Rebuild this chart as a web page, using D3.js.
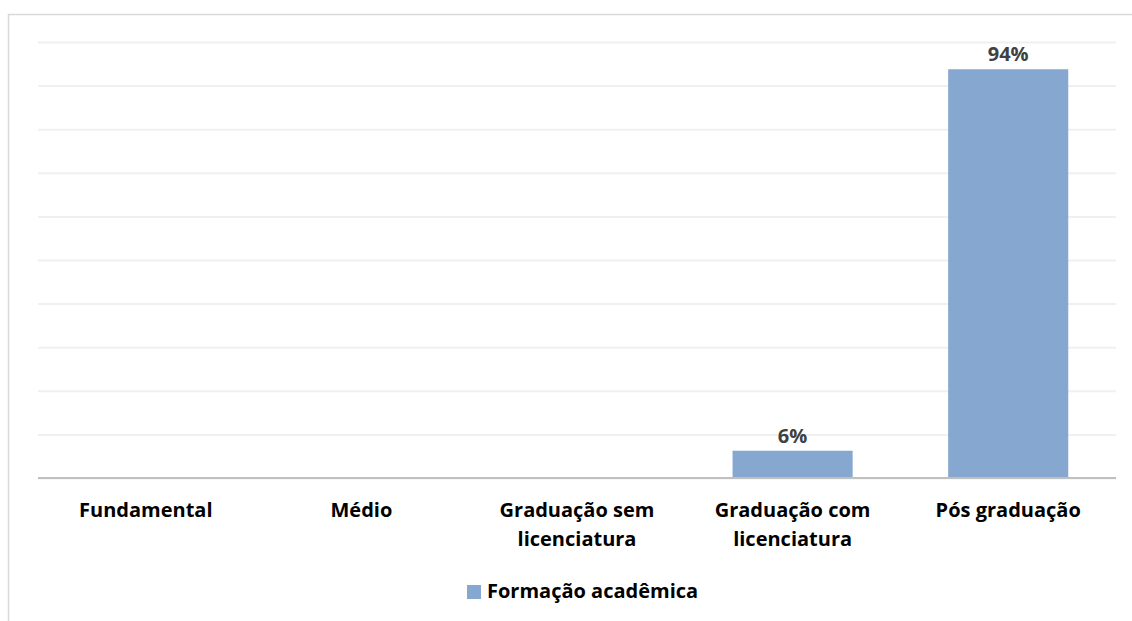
<!DOCTYPE html>
<html>
<head>
<meta charset="utf-8">
<script src="https://cdn.jsdelivr.net/npm/d3@7"></script>
<style>
  body { margin: 0; background: #fff; }
  text { font-family: "Open Sans", sans-serif; font-weight: bold; }
</style>
</head>
<body>
<svg width="1132" height="621"></svg>
<script>
var categories = ["Fundamental", "Médio", "Graduação sem licenciatura", "Graduação com licenciatura", "Pós graduação"];
var values = [0, 0, 0, 6.25, 93.75];
var valueLabels = ["", "", "", "6%", "94%"];
var seriesName = "Formação acadêmica";

var data = categories.map(function(c, i) { return {cat: c, value: values[i], label: valueLabels[i]}; });

var svg = d3.select("svg"),
    margin = {top: 42, left: 38, right: 16, bottom: 143},
    width = 1132 - margin.left - margin.right,
    height = 621 - margin.top - margin.bottom,
    g = svg.append("g").attr("transform", "translate(" + margin.left + "," + margin.top + ")");

// chart frame (only top and left show in the picture)
svg.append("rect")
    .attr("x", 8.5).attr("y", 14.5)
    .attr("width", 1200).attr("height", 700)
    .attr("fill", "none")
    .attr("stroke", "#d9d9d9")
    .attr("stroke-width", 1.5);

var x = d3.scaleBand()
    .domain(categories)
    .range([0, width])
    .paddingInner(0.443)
    .paddingOuter(0.2215);

var y = d3.scaleLinear()
    .domain([0, 100])
    .range([height, 0]);

// gridlines
g.append("g")
    .call(d3.axisLeft(y).ticks(10).tickSize(-width).tickFormat(""))
    .call(function(a) {
      a.select(".domain").remove();
      a.selectAll(".tick line").attr("stroke", "#f0f0f0").attr("stroke-width", 2);
    });

g.selectAll(".bar")
    .data(data)
    .enter().append("rect")
      .attr("class", "bar")
      .attr("x", function(d) { return x(d.cat); })
      .attr("y", function(d) { return y(d.value); })
      .attr("width", x.bandwidth())
      .attr("height", function(d) { return y(0) - y(d.value); })
      .attr("fill", "#85a7d0");

g.selectAll(".vlabel")
    .data(data.filter(function(d) { return d.label; }))
    .enter().append("text")
      .attr("class", "vlabel")
      .attr("x", function(d) { return x(d.cat) + x.bandwidth() / 2; })
      .attr("y", function(d) { return y(d.value) - 8; })
      .attr("text-anchor", "middle")
      .attr("font-size", 20)
      .attr("fill", "#404040")
      .text(function(d) { return d.label; });

// x axis baseline + labels
var xAxis = g.append("g")
    .attr("transform", "translate(0," + height + ")")
    .call(d3.axisBottom(x).tickSize(0).tickPadding(0));
xAxis.select(".domain").remove();
g.append("line")
    .attr("x1", 0).attr("x2", width)
    .attr("y1", height).attr("y2", height)
    .attr("stroke", "#bfbfbf")
    .attr("stroke-width", 2);

xAxis.selectAll(".tick text")
    .attr("font-size", 20)
    .attr("font-family", "Open Sans, sans-serif")
    .attr("font-weight", "bold")
    .attr("fill", "#000")
    .call(wrap, 185);

function wrap(text, w) {
  text.each(function() {
    var t = d3.select(this),
        words = t.text().split(/\s+/),
        line = [], lines = [];
    t.text(null);
    var probe = t.append("tspan");
    words.forEach(function(word) {
      line.push(word);
      probe.text(line.join(" "));
      if (probe.node().getComputedTextLength() > w && line.length > 1) {
        line.pop();
        lines.push(line.join(" "));
        line = [word];
      }
    });
    lines.push(line.join(" "));
    probe.remove();
    lines.forEach(function(l, i) {
      t.append("tspan")
        .attr("x", 0)
        .attr("y", 39 + i * 29)
        .attr("dy", 0)
        .text(l);
    });
  });
}

// legend
var legend = svg.append("g").attr("transform", "translate(467,585)");
legend.append("rect")
    .attr("width", 14).attr("height", 14)
    .attr("fill", "#85a7d0");
legend.append("text")
    .attr("x", 20).attr("y", 13)
    .attr("font-size", 20)
    .attr("fill", "#000")
    .text(seriesName);
</script>
</body>
</html>
